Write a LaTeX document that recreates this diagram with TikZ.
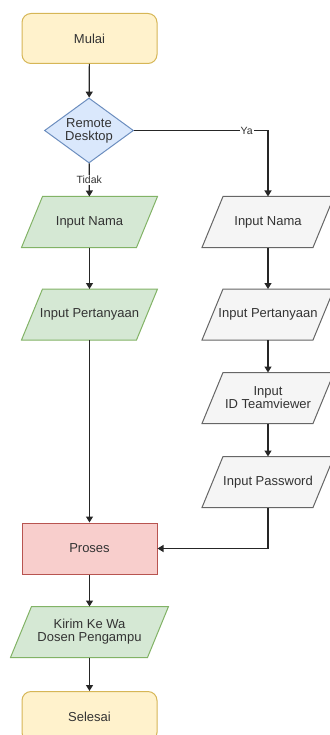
\documentclass[tikz,border=0pt]{standalone}
\usepackage{fontspec}
\setmainfont{Liberation Sans}
\usetikzlibrary{shapes.geometric,arrows.meta,backgrounds}
\definecolor{termfill}{HTML}{FFF2CC}\definecolor{termdraw}{HTML}{D6B656}
\definecolor{decfill}{HTML}{DAE8FC}\definecolor{decdraw}{HTML}{6C8EBF}
\definecolor{grfill}{HTML}{D5E8D4}\definecolor{grdraw}{HTML}{82B366}
\definecolor{gyfill}{HTML}{F5F5F5}\definecolor{gydraw}{HTML}{666666}
\definecolor{rdfill}{HTML}{F8CECC}\definecolor{rddraw}{HTML}{B85450}
\definecolor{txt}{HTML}{333333}
\begin{document}
\begin{tikzpicture}[x=1pt,y=-1pt,
  every node/.style={font=\fontsize{13}{13}\selectfont, text=txt, align=center, line width=1pt},
  term/.style={draw=termdraw, fill=termfill, rounded corners=9pt, minimum width=135pt, minimum height=50pt},
  dec/.style={diamond, draw=decdraw, fill=decfill, minimum width=89pt, minimum height=65pt, inner sep=0pt, aspect=1.37},
  io/.style={minimum width=114pt, minimum height=50pt, inner sep=0pt},
  proc/.style={draw=rddraw, fill=rdfill, minimum width=135pt, minimum height=51pt},
  paragr/.style={draw=grdraw, fill=grfill, line width=1pt},
  paragy/.style={draw=gydraw, fill=gyfill, line width=1pt},
  conn/.style={draw=black!85, line width=1.2pt, -{Triangle[length=6pt,width=7pt]}},
  lbl/.style={fill=white, inner sep=1pt, font=\fontsize{10.5}{12}\selectfont}
]
\useasboundingbox (0,0) rectangle (329,735);
\node[term] (mulai) at (89.5,38.5) {Mulai};
\node[dec] (rd) at (89,130.5) {Remote\\Desktop};
\node[io] (n1) at (89.5,222) {Input Nama};
\node[io] (p1) at (89.5,314.5) {Input Pertanyaan};
\node[io, minimum width=110pt] (n2) at (268,222) {Input Nama};
\node[io, minimum width=110pt] (p2) at (268,314.5) {Input Pertanyaan};
\node[io, minimum width=110pt] (id) at (268,398) {Input\\ID Teamviewer};
\node[io, minimum width=110pt] (pw) at (268,482) {Input Password};
\node[proc] (pr) at (89.5,548.5) {Proses};
\node[io, minimum width=136pt] (kirim) at (89.5,632) {Kirim Ke Wa\\Dosen Pengampu};
\node[term] (sel) at (89.5,716.5) {Selesai};

\begin{scope}[on background layer]
\foreach \n/\s in {n1/paragr, p1/paragr, kirim/paragr, n2/paragy, p2/paragy, id/paragy, pw/paragy}
  \path[\s] ([xshift=-10.5pt]\n.south west) -- ([xshift=10.5pt]\n.north west)
        -- ([xshift=10.5pt]\n.north east) -- ([xshift=-10.5pt]\n.south east) -- cycle;
\end{scope}

\draw[conn] (mulai) -- (rd);
\draw[conn] (rd) -- node[lbl, pos=0.5] {Tidak} (n1);
\draw[conn] (rd.east) -| node[lbl, pos=0.42] {Ya} (n2.north);
\draw[conn] (n1) -- (p1);
\draw[conn] (p1) -- (pr);
\draw[conn] (n2) -- (p2);
\draw[conn] (p2) -- (id);
\draw[conn] (id) -- (pw);
\draw[conn] (pw.south) |- (pr.east);
\draw[conn] (pr) -- (kirim);
\draw[conn] (kirim) -- (sel);
\end{tikzpicture}
\end{document}
